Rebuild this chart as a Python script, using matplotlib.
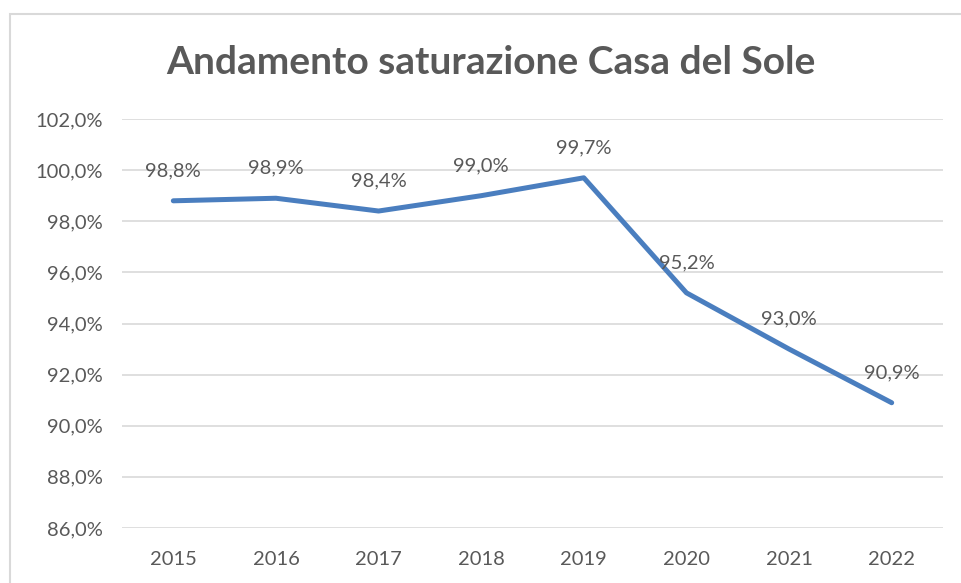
import matplotlib
matplotlib.use("Agg")
import matplotlib.pyplot as plt
from matplotlib.patches import Rectangle

years = ["2015", "2016", "2017", "2018", "2019", "2020", "2021", "2022"]
values = [98.8, 98.9, 98.4, 99.0, 99.7, 95.2, 93.0, 90.9]
yticks = [86, 88, 90, 92, 94, 96, 98, 100, 102]
title = "Andamento saturazione Casa del Sole"

W, H = 961, 583
fig = plt.figure(figsize=(W / 100, H / 100), dpi=100)
fig.patch.set_facecolor("white")

# chart border (only top and left visible)
fig.add_artist(Rectangle((10 / W, -0.1), 1.2, 1 - 14 / H + 0.1, transform=fig.transFigure,
                         fill=False, edgecolor="#d9d9d9", linewidth=1.5))

ax = fig.add_axes([122 / W, 1 - 528 / H, (943 - 122) / W, (528 - 119) / H])
x = list(range(len(years)))
ax.plot(x, values, color="#4A7EBF", linewidth=3.6, solid_capstyle="round", solid_joinstyle="round", zorder=3)

gray = "#595959"
font = "Lato"
fs = 14.5
for xi, v in zip(x, values):
    ax.annotate(f"{v:.1f}%".replace(".", ","), (xi, v), xytext=(0, 15.5), textcoords="offset points",
                ha="center", va="bottom", fontsize=fs, color=gray, family=font)

ax.set_xlim(-0.5, len(years) - 0.5)
ax.set_ylim(86, 102)
ax.set_yticks(yticks)
ax.set_yticklabels([f"{t:.1f}%".replace(".", ",") for t in yticks], fontsize=fs, color=gray, family=font)
ax.set_xticks(x)
ax.set_xticklabels(years, fontsize=fs, color=gray, family=font)
ax.tick_params(length=0, pad=14)
ax.tick_params(axis="x", pad=16.5)
ax.grid(axis="y", color="#d9d9d9", linewidth=1.2)
ax.set_axisbelow(True)
for s in ax.spines.values():
    s.set_visible(False)

fig.text(491 / W, 1 - 62 / H, title, ha="center", va="center", fontsize=28, fontweight="bold",
         color=gray, family=font)

fig.savefig("out.png", dpi=100)
